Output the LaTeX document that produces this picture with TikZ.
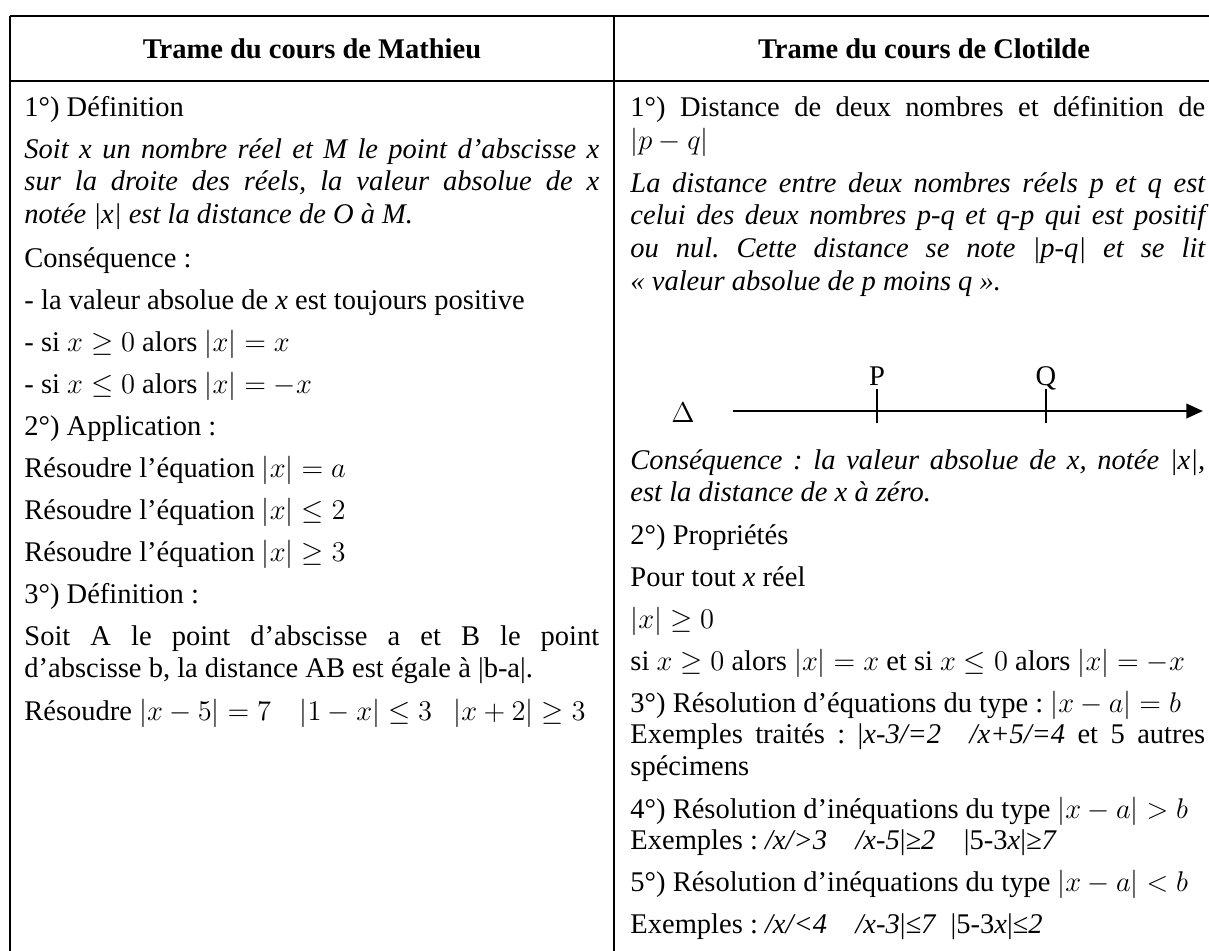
\documentclass[tikz,border=0pt]{standalone}
\usepackage{fontspec}
\setmainfont{Liberation Serif}
\usetikzlibrary{arrows.meta}
\tolerance=9999
\hyphenpenalty=10000
\frenchspacing

\begin{document}
\begin{tikzpicture}[
        x=0.421pt, y=-0.421pt,
        every node/.style={inner sep=0pt, font=\fontsize{12}{13.8}\selectfont},
        txt/.style={anchor=base west},
        para/.style={anchor=base west, text width=242pt, align=justify},
        head/.style={anchor=base, font=\fontsize{12}{13.8}\selectfont\bfseries},
        rule/.style={line width=1pt},
        axis/.style={line width=1.2pt, -{Triangle[length=7pt,width=6pt]}},
        tick/.style={line width=0.5pt},
    ]
    \useasboundingbox (0,0) rectangle (1209,950);
    \draw[rule] (10,16) -- (1240,16);
    \draw[rule] (10,81) -- (1240,81);
    \draw[rule] (10,16) -- (10,960);
    \draw[rule] (614,16) -- (614,960);

    \node[head] (hmat) at (312,59) {Trame du cours de Mathieu};
    \node[head] (hclo) at (924,59) {Trame du cours de Clotilde};

    \node[txt] (mdef) at (24,117) {1°) Définition};
    \node[para] (msoit) at (24,158) {\itshape Soit x un nombre réel et M le point d’abscisse x\linebreak sur la droite des réels, la valeur absolue de x\linebreak notée |x| est la distance de O à M.};
    \node[txt] (mcons) at (24,267) {Conséquence :};
    \node[txt] (mpos) at (24,309) {- la valeur absolue de \textit{x} est toujours positive};
    \node[txt] (msup) at (24,351) {- si $x \geq 0$ alors $|x| = x$};
    \node[txt] (minf) at (24,393) {- si $x \leq 0$ alors $|x| = -x$};
    \node[txt] (mapp) at (24,435) {2°) Application :};
    \node[txt] (meqa) at (24,477) {Résoudre l’équation $|x| = a$};
    \node[txt] (meqb) at (24,519) {Résoudre l’équation $|x| \leq 2$};
    \node[txt] (meqc) at (24,561) {Résoudre l’équation $|x| \geq 3$};
    \node[txt] (mdefb) at (24,603) {3°) Définition :};
    \node[para] (mab) at (24,645) {Soit A le point d’abscisse a et B le point\linebreak d’abscisse b, la distance AB est égale à |b-a|.};
    \node[txt] (mres) at (24,720) {Résoudre $|x-5| = 7$\quad $|1-x| \leq 3$\enspace\ $|x+2| \geq 3$};

    \node[para] (cdist) at (630,117) {1°) Distance de deux nombres et définition de\linebreak $|p-q|$};
    \node[para] (cpq) at (630,192) {\itshape La distance entre deux nombres réels p et q est\linebreak celui des deux nombres p-q et q-p qui est positif\linebreak ou nul. Cette distance se note |p-q| et se lit\linebreak «~valeur absolue de p moins q~».};

    \node (delta) at (683,413) {$\Delta$};
    \coordinate (axL) at (733,411);
    \coordinate (axR) at (1203,411);
    \draw[axis] (axL) -- (axR);
    \draw[tick] (877,389) -- (877,423);
    \draw[tick] (1046,389) -- (1046,423);
    \node[anchor=base] (labP) at (877,385) {P};
    \node[anchor=base] (labQ) at (1046,385) {Q};

    \node[para] (ccons) at (630,469) {\itshape Conséquence : la valeur absolue de x, notée |x|,\linebreak est la distance de x à zéro.};
    \node[txt] (cprop) at (630,544) {2°) Propriétés};
    \node[txt] (ctout) at (630,586) {Pour tout \textit{x} réel};
    \node[txt] (cpos) at (630,628) {$|x| \geq 0$};
    \node[txt] (csi) at (630,670) {si $x \geq 0$ alors $|x| = x$ et si $x \leq 0$ alors $|x| = -x$};
    \node[txt] (ceq) at (630,712) {3°) Résolution d’équations du type : $|x-a| = b$};
    \node[para] (cexa) at (630,743) {Exemples traités : |\textit{x-3/=2}\quad \textit{/x+5/=4} et 5 autres\linebreak spécimens};
    \node[txt] (cineqa) at (630,818) {4°) Résolution d’inéquations du type $|x-a| > b$};
    \node[txt] (cexb) at (630,849) {Exemples : \textit{/x/>3}\quad \textit{/x-5}|\textit{≥2}\quad |5-3\textit{x}|\textit{≥7}};
    \node[txt] (cineqb) at (630,891) {5°) Résolution d’inéquations du type $\bigl|x-a\bigr|<b$};
    \node[txt] (cexc) at (630,933) {Exemples : \textit{/x/<4}\quad \textit{/x-3}|\textit{≤7}\enspace |5-3\textit{x}|\textit{≤2}};
\end{tikzpicture}
\end{document}
